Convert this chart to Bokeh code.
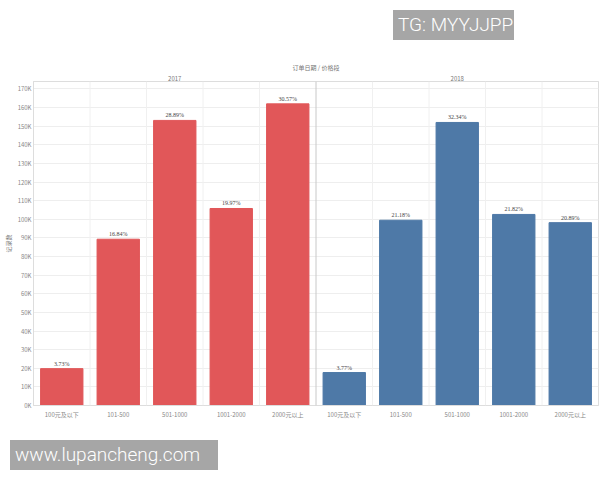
from bokeh.plotting import figure
from bokeh.layouts import column, row
from bokeh.models import (FactorRange, ColumnDataSource, Span, SingleIntervalTicker,
                          PrintfTickFormatter, LabelSet, CategoricalAxis, Div, Spacer,
                          CustomJSTickFormatter)
from bokeh.embed import file_html
from bokeh.resources import INLINE

years = ["2017", "2018"]
segments = ["100元及以下", "101-500", "501-1000", "1001-2000", "2000元以上"]
records_k_2017 = [19.8, 89.3, 153.1, 105.8, 162.0]
records_k_2018 = [17.7, 99.5, 152.0, 102.6, 98.2]
pct_2017 = ["3.73%", "16.84%", "28.89%", "19.97%", "30.57%"]
pct_2018 = ["3.77%", "21.18%", "32.34%", "21.82%", "20.89%"]
year_colors = {"2017": "#E15759", "2018": "#4E79A7"}
y_ticks_interval = 10

FONT = "Noto Sans CJK SC"

keys = [f"{y}|{s}" for y in years for s in segments]
values = records_k_2017 + records_k_2018
labels = pct_2017 + pct_2018
colors = [year_colors[y] for y in years for _ in segments]

src = ColumnDataSource(dict(x=keys, top=values, lab=labels, color=colors))

xr = FactorRange(*keys, factor_padding=0, range_padding=0)
p = figure(width=600, height=400, x_range=xr, y_range=(0, 174),
           output_backend="svg", toolbar_location=None,
           min_border_left=0, min_border_right=2, min_border_top=41, min_border_bottom=35)
p.extra_x_ranges = {"years": FactorRange(*years, factor_padding=0, range_padding=0)}
p.background_fill_color = "white"
p.outline_line_color = "#dddddd"
p.margin = 0

p.title.text = "订单日期 / 价格段"
p.title.align = "center"
p.title.text_font_size = "6px"
p.title.text_font_style = "normal"
p.title.text_color = "#777777"
p.title.text_font = FONT
p.title.standoff = 1

p.vbar(x="x", top="top", width=0.75, color="color", source=src)
p.add_layout(LabelSet(x="x", y="top", text="lab", source=src, text_align="center",
                      text_baseline="bottom", y_offset=2, text_font_size="6px",
                      text_color="#444444", text_font=FONT))

# y axis
p.yaxis.ticker = SingleIntervalTicker(interval=y_ticks_interval, num_minor_ticks=0)
p.yaxis.formatter = PrintfTickFormatter(format="%dK")
p.yaxis.major_label_text_font_size = "6px"
p.yaxis.major_label_text_color = "#888888"
p.yaxis.major_label_text_font = FONT
p.yaxis.major_tick_line_color = None
p.yaxis.major_tick_out = 0
p.yaxis.major_tick_in = 0
p.yaxis.minor_tick_line_color = None
p.yaxis.axis_line_color = "#dddddd"
p.yaxis.axis_label = "记录数"
p.yaxis.axis_label_text_font_size = "6px"
p.yaxis.axis_label_text_font_style = "normal"
p.yaxis.axis_label_text_color = "#777777"
p.yaxis.axis_label_text_font = FONT
p.yaxis.axis_label_standoff = 2
p.yaxis.major_label_standoff = 2

# bottom x axis: show only the price segment
p.xaxis.formatter = CustomJSTickFormatter(code="return String(tick).split('|')[1];")
p.xaxis.major_label_text_font_size = "6px"
p.xaxis.major_label_text_color = "#888888"
p.xaxis.major_label_text_font = FONT
p.xaxis.major_tick_line_color = None
p.xaxis.major_tick_out = 0
p.xaxis.major_tick_in = 0
p.xaxis.axis_line_color = "#dddddd"
p.xaxis.major_label_standoff = 4

# top axis: year headers
top = CategoricalAxis(x_range_name="years", major_label_text_font_size="6px",
                      major_label_text_color="#777777", major_label_text_font=FONT,
                      major_label_standoff=1, major_tick_line_color=None,
                      major_tick_out=0, major_tick_in=0, axis_line_color="#dddddd")
p.add_layout(top, "above")

p.xgrid.grid_line_color = None
p.ygrid.grid_line_color = "#eeeeee"

# category separators
n = len(segments)
for i in range(1, len(keys)):
    col = "#c8c8c8" if i % n == 0 else "#f0f0f0"
    p.add_layout(Span(location=i, dimension="height", line_color=col, line_width=1))

wm_style = {"background-color": "#a6a6a6", "color": "white", "font-family": "Roboto",
            "font-weight": "300", "font-size": "19px", "padding": "4px 5px",
            "line-height": "22px", "box-sizing": "border-box", "white-space": "nowrap"}
tg = Div(text="TG: MYYJJPP", width=121, height=30, styles=wm_style, margin=0)
www = Div(text="www.lupancheng.com", width=208, height=30, styles=wm_style, margin=0)

layout = column(
    Spacer(height=10, width=600, margin=0),
    row(Spacer(width=393, height=30, margin=0), tg, margin=0, spacing=0),
    p,
    row(Spacer(width=10, height=30, margin=0), www, margin=0, spacing=0),
    margin=0, spacing=0,
)

open("out.html", "w").write(file_html(layout, INLINE))
